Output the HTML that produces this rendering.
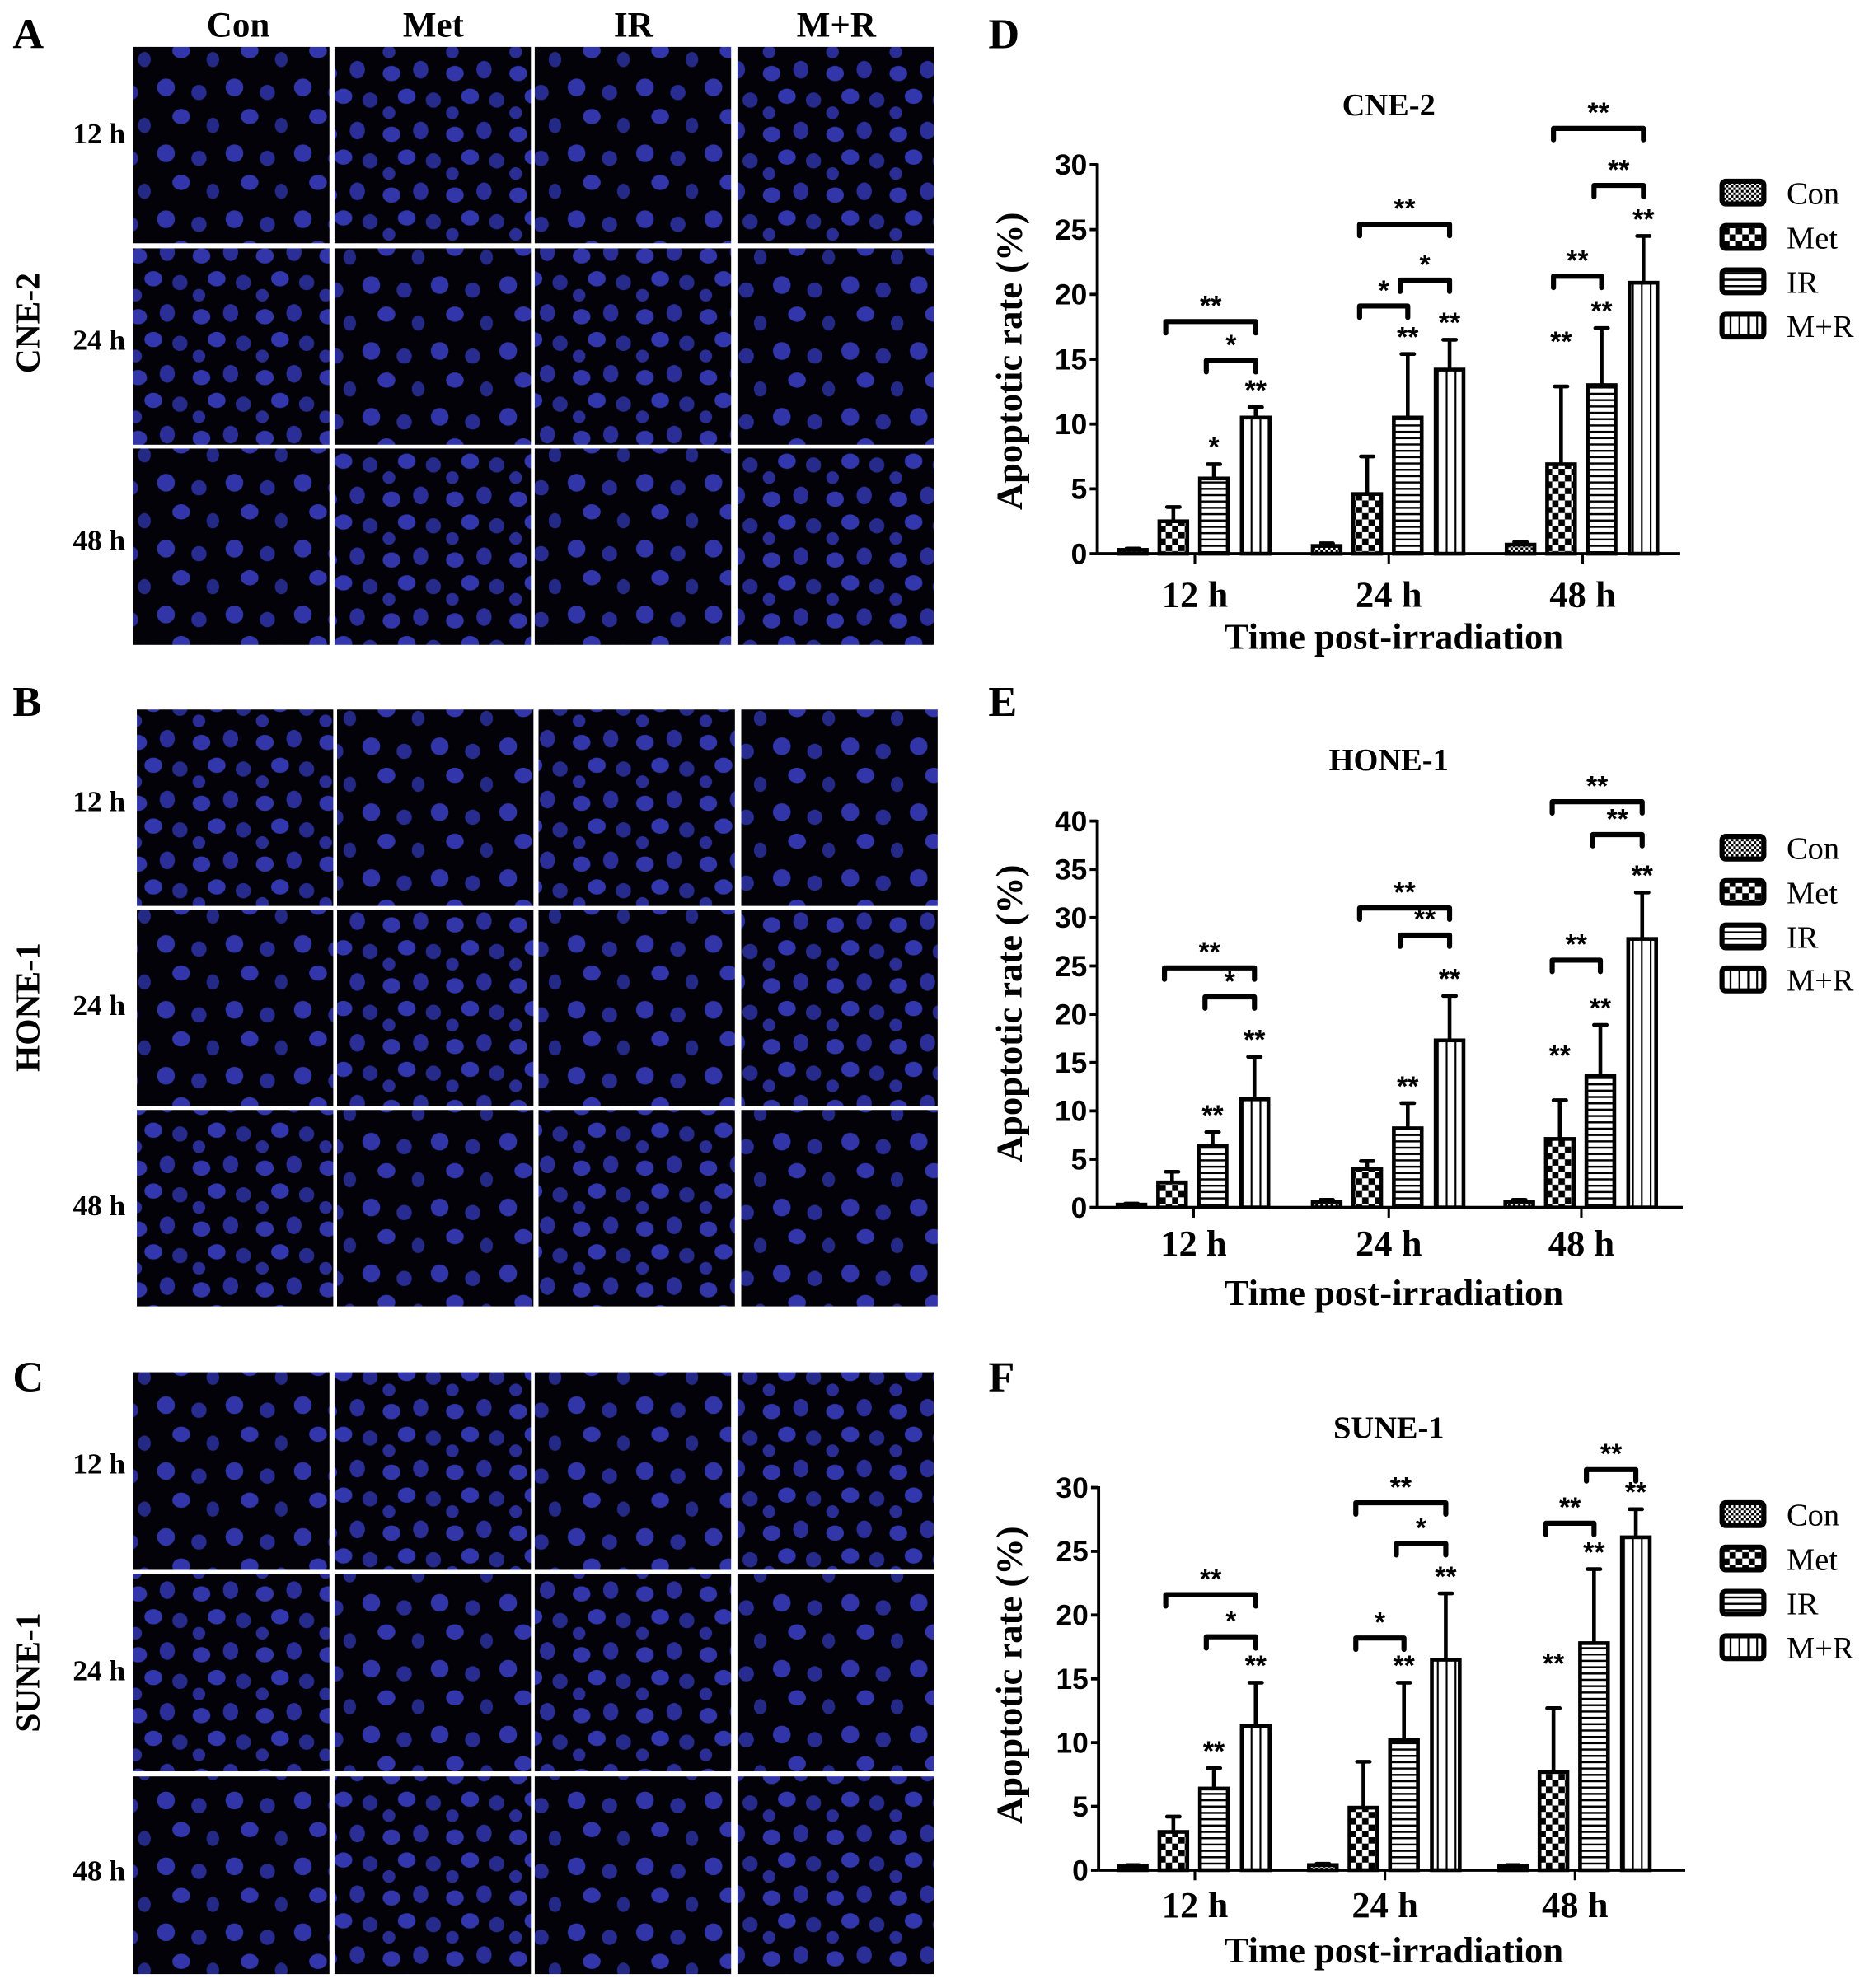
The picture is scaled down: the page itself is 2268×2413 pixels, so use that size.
<!DOCTYPE html>
<html><head><meta charset="utf-8"><style>
html,body{margin:0;padding:0;background:#fff;}
svg{display:block;}
.ser{font-family:"Liberation Serif",serif;}
</style></head><body>
<svg id="fig" width="2268" height="2413" viewBox="0 0 1475 1569" preserveAspectRatio="none" xmlns="http://www.w3.org/2000/svg">
<defs>
<pattern id="nuc" width="50" height="48" patternUnits="userSpaceOnUse">
<rect width="50" height="48" fill="#020208"/>
<ellipse cx="9" cy="10" rx="7" ry="6" fill="#3236a8"/>
<ellipse cx="32" cy="7" rx="6" ry="7" fill="#2a2e96"/>
<ellipse cx="21" cy="28" rx="7" ry="6" fill="#3337ae"/>
<ellipse cx="42" cy="31" rx="6" ry="6" fill="#262a8a"/>
<ellipse cx="7" cy="41" rx="5" ry="5" fill="#2a2e94"/>
</pattern>
<pattern id="nuc2" width="54" height="52" patternUnits="userSpaceOnUse" patternTransform="translate(13,7)">
<rect width="54" height="52" fill="#020208"/>
<ellipse cx="10" cy="10" rx="7" ry="7" fill="#3135a8"/>
<ellipse cx="36" cy="14" rx="6" ry="6" fill="#282c90"/>
<ellipse cx="22" cy="33" rx="7" ry="6" fill="#3236aa"/>
<ellipse cx="47" cy="40" rx="5" ry="6" fill="#252986"/>
</pattern>
<pattern id="pCon" width="4" height="4" patternUnits="userSpaceOnUse">
<rect width="4" height="4" fill="#fff"/><rect width="2" height="2" fill="#000"/><rect x="2" y="2" width="2" height="2" fill="#000"/>
</pattern>
<pattern id="pMet" width="10" height="10" patternUnits="userSpaceOnUse">
<rect width="10" height="10" fill="#fff"/><rect width="5" height="5" fill="#000"/><rect x="5" y="5" width="5" height="5" fill="#000"/>
</pattern>
<pattern id="pIR" width="5" height="5" patternUnits="userSpaceOnUse">
<rect width="5" height="5" fill="#fff"/><rect y="0" width="5" height="1.6" fill="#000"/>
</pattern>
<pattern id="pMR" width="7" height="7" patternUnits="userSpaceOnUse">
<rect width="7" height="7" fill="#fff"/><rect x="0" width="1.4" height="7" fill="#000"/>
</pattern>
</defs>
<g id="micro"></g>
<g id="charts"></g>
</svg>
<script>
const NS="http://www.w3.org/2000/svg";
const svg=document.getElementById('fig');
function mk(tag,attrs,parent,text){const e=document.createElementNS(NS,tag);for(const k in attrs)e.setAttribute(k,attrs[k]);if(text!==undefined)e.textContent=text;(parent||svg).appendChild(e);return e;}

// ---------- micrograph panels ----------
const micro=document.getElementById('micro');
const colHeaders=["Con","Met","IR","M+R"];
const rowLabels=["12 h","24 h","48 h"];
const panelLetters=["A","B","C"];
const cellLines=["CNE-2","HONE-1","SUNE-1"];
const panelBlocks=[
 {y:[37,196,354],x:[105,264,422,582],w:155,h:155,ly:[105,268,426],ty:255,letterY:38},
 {y:[560,718,876],x:[108,266,425,585],w:155,h:155,ly:[632,793,951],ty:795,letterY:565},
 {y:[1083,1242,1402],x:[105,264,422,582],w:155,h:156,ly:[1155,1318,1476],ty:1320,letterY:1098}
];
colHeaders.forEach((c,i)=>{
 const t=mk('text',{x:[188,342,500,660][i],y:29,'text-anchor':'middle','font-size':28,'font-weight':'bold',class:'ser'},micro,c);
 
 
});
panelBlocks.forEach((b,pi)=>{
 const L=mk('text',{x:10,y:b.letterY,'font-size':34,'font-weight':'bold',class:'ser'},micro,panelLetters[pi]);
 
 
 const cl=mk('text',{x:0,y:0,'font-size':27,'font-weight':'bold',class:'ser','text-anchor':'middle',transform:`translate(31,${b.ty}) rotate(-90)`},micro,cellLines[pi]);
 
 
 b.y.forEach((yy,ri)=>{
  const rl=mk('text',{x:99,y:b.ly[ri]+8,'text-anchor':'end','font-size':23,'font-weight':'bold',class:'ser'},micro,rowLabels[ri]);
  
  
  b.x.forEach((xx,ci)=>{
   const r=mk('rect',{x:xx,y:yy,width:b.w,height:b.h,fill:((ri+ci+pi)%2?'url(#nuc)':'url(#nuc2)')},micro);
   
   
  });
 });
});

// ---------- chart data ----------
const groups=["12 h","24 h","48 h"];
const seriesNames=["Con","Met","IR","M+R"];
const seriesFill=["url(#pCon)","url(#pMet)","url(#pIR)","url(#pMR)"];
// D: CNE-2
const dCon=[0.3,0.6,0.7], dMet=[2.5,4.6,6.9], dIR=[5.8,10.5,13.0], dMR=[10.5,14.2,20.9];
const dConErr=[0.1,0.2,0.2], dMetErr=[1.1,2.9,6.0], dIRErr=[1.1,4.9,4.4], dMRErr=[0.8,2.3,3.6];
const dTicks=[0,5,10,15,20,25,30];
const dBrackets=[[0,1,3,17.9,"**"],[0,2,3,14.9,"*"],[1,1,3,25.4,"**"],[1,1,2,19.1,"*"],[1,2,3,21.1,"*"],[2,2,3,28.4,"**"],[2,1,2,21.4,"**"],[2,1,3,32.8,"**"]];
const dStars=[[0,2,"*"],[0,3,"**"],[1,2,"**"],[1,3,"**"],[2,1,"**"],[2,2,"**"],[2,3,"**"]];
// E: HONE-1
const eCon=[0.3,0.6,0.6], eMet=[2.6,4.0,7.1], eIR=[6.4,8.2,13.6], eMR=[11.2,17.3,27.8];
const eConErr=[0.1,0.2,0.2], eMetErr=[1.1,0.8,4.0], eIRErr=[1.4,2.6,5.3], eMRErr=[4.4,4.6,4.8];
const eTicks=[0,5,10,15,20,25,30,35,40];
const eBrackets=[[0,1,3,24.8,"**"],[0,2,3,21.8,"*"],[1,1,3,31.0,"**"],[1,2,3,28.2,"**"],[2,1,3,42.0,"**"],[2,2,3,38.6,"**"],[2,1,2,25.6,"**"]];
const eStars=[[0,2,"**"],[0,3,"**"],[1,2,"**"],[1,3,"**"],[2,1,"**"],[2,2,"**"],[2,3,"**"]];
// F: SUNE-1
const fCon=[0.3,0.4,0.3], fMet=[3.0,4.9,7.7], fIR=[6.4,10.2,17.8], fMR=[11.3,16.5,26.1];
const fConErr=[0.1,0.1,0.1], fMetErr=[1.2,3.6,5.0], fIRErr=[1.6,4.5,5.8], fMRErr=[3.4,5.2,2.2];
const fTicks=[0,5,10,15,20,25,30];
const fBrackets=[[0,1,3,21.6,"**"],[0,2,3,18.3,"*"],[1,1,3,28.8,"**"],[1,2,3,25.6,"*"],[1,1,2,18.2,"*"],[2,2,3,31.4,"**"],[2,1,2,27.2,"**"]];
const fStars=[[0,2,"**"],[0,3,"**"],[1,2,"**"],[1,3,"**"],[2,1,"**"],[2,2,"**"],[2,3,"**"]];

const charts=[
 {id:'d',letter:'D',title:'CNE-2',vals:[dCon,dMet,dIR,dMR],errs:[dConErr,dMetErr,dIRErr,dMRErr],ticks:dTicks,br:dBrackets,st:dStars,
  ax:866,x1:1326,y0:437,yTop:130,max:30,centers:[943,1096,1249],letterY:38,titleY:91,xlabY:479,xtitleY:512,ytitleY:285,legY:[152,187,222,257]},
 {id:'e',letter:'E',title:'HONE-1',vals:[eCon,eMet,eIR,eMR],errs:[eConErr,eMetErr,eIRErr,eMRErr],ticks:eTicks,br:eBrackets,st:eStars,
  ax:866,x1:1328,y0:953,yTop:648,max:40,centers:[942,1096,1248],letterY:565,titleY:608,xlabY:991,xtitleY:1030,ytitleY:800,legY:[669,704,739,773]},
 {id:'f',letter:'F',title:'SUNE-1',vals:[fCon,fMet,fIR,fMR],errs:[fConErr,fMetErr,fIRErr,fMRErr],ticks:fTicks,br:fBrackets,st:fStars,
  ax:867,x1:1330,y0:1476,yTop:1174,max:30,centers:[943,1093,1243],letterY:1098,titleY:1135,xlabY:1513,xtitleY:1549,ytitleY:1322,legY:[1195,1230,1265,1300]}
];
const barOff=[-49,-17,15,48], barW=22;
const cg=document.getElementById('charts');
charts.forEach(c=>{
 const g=mk('g',{},cg);
 
 
 const yS=v=>c.y0-(v/c.max)*(c.y0-c.yTop);
 const xS=(gi,si)=>c.centers[gi]+barOff[si];
 const L=mk('text',{x:780,y:c.letterY,'font-size':34,'font-weight':'bold',class:'ser'},g,c.letter);
 
 
 const T=mk('text',{x:1096,y:c.titleY,'text-anchor':'middle','font-size':25,'font-weight':'bold',class:'ser'},g,c.title);
 
 
 const ya=mk('line',{x1:c.ax,y1:c.yTop-1,x2:c.ax,y2:c.y0,stroke:'#000','stroke-width':2.5},g);
 
 
 c.ticks.forEach(t=>{
  mk('line',{x1:c.ax-6,y1:yS(t),x2:c.ax,y2:yS(t),stroke:'#000','stroke-width':2.5},g);
  const tl=mk('text',{x:c.ax-8,y:yS(t)+8,'text-anchor':'end','font-size':23,'font-weight':'bold','font-family':'"Liberation Sans Narrow","Liberation Sans",sans-serif'},g,String(t));
  
  
 });
 const xa=mk('line',{x1:c.ax,y1:c.y0,x2:c.x1,y2:c.y0,stroke:'#000','stroke-width':2.5},g);
 
 
 groups.forEach((gr,gi)=>{
  mk('line',{x1:c.centers[gi],y1:c.y0,x2:c.centers[gi],y2:c.y0+8,stroke:'#000','stroke-width':2},g);
  const xl=mk('text',{x:c.centers[gi],y:c.xlabY,'text-anchor':'middle','font-size':29,'font-weight':'bold',class:'ser'},g,gr);
  
  
 });
 const xt=mk('text',{x:1100,y:c.xtitleY,'text-anchor':'middle','font-size':29,'font-weight':'bold',class:'ser'},g,'Time post-irradiation');
 
 
 const yt=mk('text',{x:0,y:0,'text-anchor':'middle','font-size':29,'font-weight':'bold',class:'ser',transform:`translate(806,${c.ytitleY}) rotate(-90)`},g,'Apoptotic rate (%)');
 
 
 c.vals.forEach((arr,si)=>{
  arr.forEach((v,gi)=>{
   const x=xS(gi,si), top=yS(v+c.errs[si][gi]);
   const el=mk('line',{x1:x,y1:yS(v),x2:x,y2:top,stroke:'#000','stroke-width':3},g);
   
   
   mk('line',{x1:x-5,y1:top,x2:x+5,y2:top,stroke:'#000','stroke-width':3,'stroke-linecap':'round'},g);
   const b=mk('rect',{x:x-barW/2,y:yS(v),width:barW,height:Math.max(c.y0-yS(v),1),fill:seriesFill[si],stroke:'#000','stroke-width':3},g);
   
   
  });
 });
 c.br.forEach(br=>{
  const [gi,a,b2,v,lab]=br;
  const xa1=xS(gi,a)-6, xb=xS(gi,b2), y=yS(v);
  const p=mk('path',{d:`M${xa1},${y+9} L${xa1},${y} L${xb},${y} L${xb},${y+9}`,fill:'none',stroke:'#000','stroke-width':4,'stroke-linecap':'round','stroke-linejoin':'round'},g);
  
  
  const s=mk('text',{x:(xa1+xb)/2,y:y-5,'text-anchor':'middle','font-size':22,'font-weight':'bold','font-family':'"Liberation Sans",sans-serif'},g,lab);
  
  
 });
 c.st.forEach(st=>{
  const [gi,si,lab]=st;
  const v=c.vals[si][gi]+c.errs[si][gi];
  const s=mk('text',{x:xS(gi,si),y:yS(v)-6+(si===1&&gi===2?-22:0),'text-anchor':'middle','font-size':22,'font-weight':'bold','font-family':'"Liberation Sans",sans-serif'},g,lab);
  
  
 });
 seriesNames.forEach((n,si)=>{
  const yy=c.legY[si];
  const r=mk('rect',{x:1359,y:yy-9,width:33,height:18,rx:3,fill:seriesFill[si],stroke:'#000','stroke-width':4},g);
  
  
  const t=mk('text',{x:1410,y:yy+9,'font-size':25,class:'ser'},g,n);
  
  
 });
});
</script>
</body></html>
